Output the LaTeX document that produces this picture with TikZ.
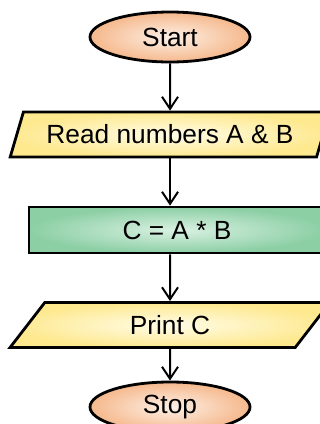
\documentclass[tikz,border=0pt]{standalone}
\usepackage{fontspec}
\setmainfont{Liberation Sans}
\usetikzlibrary{shapes.geometric,arrows.meta}
\definecolor{orEdge}{HTML}{F5B88C}
\definecolor{orMid}{HTML}{FDF0E6}
\definecolor{yeEdge}{HTML}{FEE98F}
\definecolor{yeMid}{HTML}{FFFCE8}
\definecolor{grEdge}{HTML}{8CCFA5}
\definecolor{grMid}{HTML}{DAF1E2}
\tikzset{
  base/.style={draw=black, line width=2.8pt, inner sep=0pt, font=\fontsize{26.3}{30}\selectfont},
  term/.style={base, ellipse, minimum width=160pt, minimum height=50pt, shade, inner color=orMid, outer color=orEdge},
  io/.style={base, trapezium, trapezium left angle=60, trapezium right angle=120, trapezium stretches=true, minimum width=320pt, minimum height=45pt, shade, inner color=yeMid, outer color=yeEdge},
  proc/.style={base, rectangle, minimum width=296pt, minimum height=46pt, shade, inner color=grMid, outer color=grEdge},
  flow/.style={line width=2pt, -{Straight Barb[length=12pt,width=16pt,line width=2pt]}}
}
\begin{document}
\begin{tikzpicture}[x=1pt,y=-1pt]
\useasboundingbox (0,0) rectangle (320,424);
\node[term] (start) at (170,37) {Start};
\node[io] (read) at (170,134.5) {Read numbers A \& B};
\node[proc] (calc) at (177,230) {C = A * B};
\node[io] (print) at (170,325) {Print C};
\node[term] (stop) at (170,407) {Stop};
\draw[flow] (start.south) -- (read.north);
\draw[flow] (read.south) -- (calc.north -| read.south);
\draw[flow] (calc.south -| read.south) -- (print.north);
\draw[flow] (print.south) -- (stop.north);
\end{tikzpicture}
\end{document}
